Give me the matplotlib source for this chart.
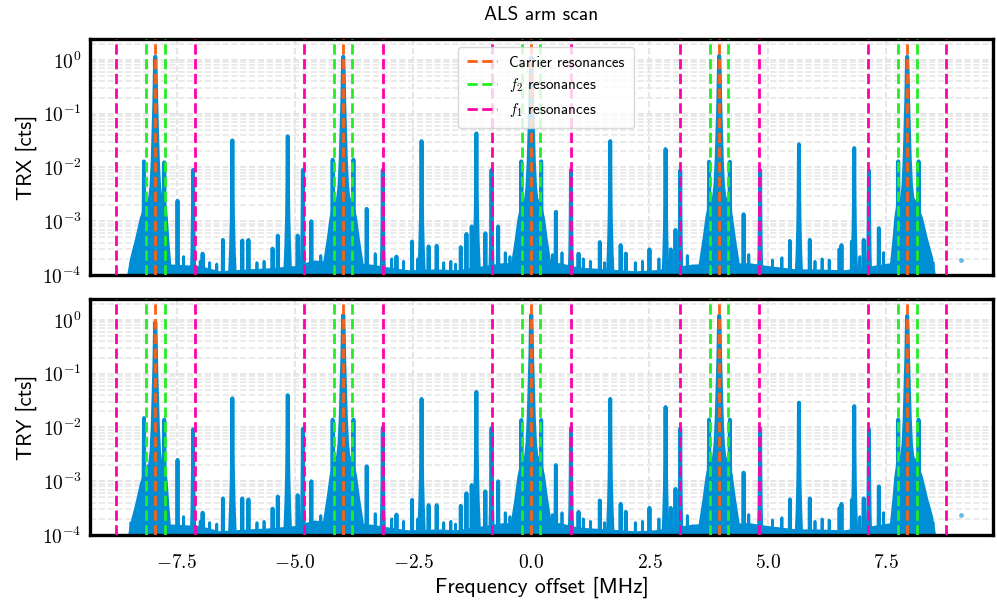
import matplotlib
matplotlib.use("Agg")
import matplotlib.pyplot as plt
from matplotlib.ticker import FixedLocator, FuncFormatter, LogLocator, NullFormatter
import numpy as np

plt.rcParams['font.family'] = ['cmss10', 'DejaVu Sans']
plt.rcParams['mathtext.fontset'] = 'cm'
plt.rcParams['axes.unicode_minus'] = False

# resonance positions [MHz]
carrier_res = [-7.95, -3.975, 0.0, 3.975, 7.95]
f2_res = [-8.155, -7.755, -4.17, -3.78, -0.195, 0.195, 3.78, 4.17, 7.755, 8.155]
f1_res = [-8.78, -7.12, -4.81, -3.14, -0.835, 0.835, 3.14, 4.81, 7.12, 8.78]

# scan range of the data [MHz]
scan_start, scan_end = -8.51, 8.52

# carrier peaks: height per panel, skirt stretch left / right
trx_carrier_h = [1.15, 1.15, 1.1, 1.2, 1.15]
try_carrier_h = [0.9, 1.25, 1.25, 1.2, 1.2]
skirt_left = [1.7, 1.0, 1.0, 1.0, 0.65]
skirt_right = [0.5, 1.0, 1.0, 1.0, 1.8]

# carrier envelope (offset [MHz], level relative to apex)
env_dx = [0, 0.01, 0.02, 0.035, 0.055, 0.08, 0.11, 0.16, 0.2, 0.25, 0.31, 0.37, 0.43]
env_rel = [1, 0.5, 0.15, 0.05, 0.012, 4e-3, 2.3e-3, 2.0e-3, 1.6e-3, 1.0e-3, 4e-4, 1.8e-4, 8e-5]

# narrow peak shape (decades below apex, half width [MHz])
spike_depth = [0, 0.5, 1.0, 1.5, 2.0, 2.5, 3.0, 4.0]
spike_hw = [0.0, 0.003, 0.007, 0.014, 0.028, 0.05, 0.085, 0.13]

# other peaks: position [MHz], TRX height, TRY height
peak_x = [-8.19, -7.76, -7.48, -7.15, -6.95, -6.52, -6.32, -6.11, -5.98, -5.47,
          -5.36, -5.15, -4.94, -4.83, -4.65, -4.20, -3.76, -3.48, -3.14, -2.85,
          -2.52, -2.32, -2.17, -2.0, -1.49, -1.37, -1.26, -1.16, -0.97, -0.84,
          -0.70, -0.21, 0.21, 0.52, 0.84, 1.0, 1.45, 1.67, 1.89, 2.0,
          2.5, 2.84, 2.95, 3.05, 3.15, 3.76, 4.20, 4.49, 4.84, 5.47,
          5.66, 5.89, 6.52, 6.56, 6.78, 6.83, 7.03, 7.14, 7.35, 7.76,
          8.19]
trx_peak_h = [0.013, 0.0125, 0.0024, 0.009, 2.5e-4, 4.5e-4, 0.032, 4.4e-4, 4.5e-4, 3.1e-4,
              5.4e-4, 0.038, 5.4e-4, 0.009, 1.0e-3, 0.014, 0.014, 1.7e-3, 0.009, 2.2e-4,
              4.2e-4, 0.031, 3.4e-4, 3.5e-4, 3.3e-4, 5.8e-4, 8e-4, 0.043, 6e-4, 0.009,
              8e-4, 0.013, 0.013, 1.5e-3, 0.009, 2.5e-4, 4.1e-4, 0.031, 3.6e-4, 2.5e-4,
              3.0e-4, 0.022, 3e-4, 6.9e-4, 0.0088, 0.0128, 0.0128, 1.35e-3, 0.009, 4.3e-4,
              0.027, 4.5e-4, 3e-4, 3.6e-4, 4.2e-4, 0.023, 4.5e-4, 0.0088, 7.4e-4, 0.013,
              0.013]
try_peak_h = [0.015, 0.014, 0.0025, 0.0093, 2.6e-4, 4.8e-4, 0.035, 4.8e-4, 4.6e-4, 3.1e-4,
              5.2e-4, 0.040, 5.5e-4, 0.0095, 1.0e-3, 0.014, 0.014, 1.9e-3, 0.010, 2.4e-4,
              4.5e-4, 0.034, 3.6e-4, 3.6e-4, 3.5e-4, 6e-4, 8.5e-4, 0.046, 6.5e-4, 0.0097,
              1.0e-3, 0.0138, 0.0138, 2.0e-3, 0.0097, 2.7e-4, 4.4e-4, 0.034, 3.8e-4, 2.7e-4,
              3.2e-4, 0.024, 3.2e-4, 7.2e-4, 0.0095, 0.014, 0.014, 1.45e-3, 0.0097, 4.6e-4,
              0.029, 4.8e-4, 3.2e-4, 3.8e-4, 4.5e-4, 0.025, 4.8e-4, 0.0093, 8e-4, 0.014,
              0.014]

# small noise spikes between the resonances (both panels)
grass_x = [-7.35, -7.0, -6.8, -6.65, -5.8, -5.65, -4.45, -3.3, -2.95, -2.7, -2.4,
           -1.85, -1.7, -1.6, -0.55, -0.45, 0.45, 0.65, 1.1, 1.25, 1.55, 2.2,
           2.35, 2.7, 3.3, 4.6, 5.1, 5.3, 6.0, 6.15, 6.3, 6.95, 7.45, 8.35]
grass_y = [2.2e-4, 1.8e-4, 1.7e-4, 1.6e-4, 1.7e-4, 1.8e-4, 2.3e-4, 2.5e-4, 2.0e-4, 1.8e-4, 2.0e-4,
           1.7e-4, 1.8e-4, 1.6e-4, 2.6e-4, 2.2e-4, 2.4e-4, 2.6e-4, 2.0e-4, 1.8e-4, 1.7e-4, 1.7e-4,
           1.8e-4, 2.0e-4, 2.3e-4, 2.4e-4, 1.9e-4, 2.1e-4, 1.8e-4, 2.0e-4, 1.9e-4, 2.2e-4, 2.6e-4, 2.8e-4]

# noise floor (upper edge of the dense band)
floor_x = [-8.51, -7.6, -7.0, -6.6, -6.0, -5.6, -5.0, -4.6, -3.4, -3.0, -2.6, -2.0, -1.6, -1.0, -0.6,
           0.6, 1.0, 1.6, 2.2, 2.6, 3.0, 3.4, 4.6, 5.0, 5.6, 6.0, 6.6, 7.0, 7.6, 8.52]
floor_y = [1.8e-4, 1.6e-4, 1.5e-4, 1.2e-4, 1.3e-4, 1.35e-4, 1.5e-4, 1.9e-4, 1.6e-4, 1.4e-4, 1.25e-4,
           1.3e-4, 1.25e-4, 1.5e-4, 1.7e-4, 1.7e-4, 1.4e-4, 1.3e-4, 1.2e-4, 1.25e-4, 1.4e-4, 1.6e-4,
           1.7e-4, 1.5e-4, 1.3e-4, 1.3e-4, 1.25e-4, 1.4e-4, 1.7e-4, 1.8e-4]

# stray points
trx_stray_x = [9.09]
trx_stray_y = [1.9e-4]
try_stray_x = [9.09, 8.06]
try_stray_y = [2.4e-4, 1.8e-4]

blue = '#008fd5'
c_carrier = '#ff6010'
c_f2 = '#22ee22'
c_f1 = '#ff00aa'


def draw_spike(ax, x0, h, lw=2.8):
    lev = h * 10.0 ** (-np.array(spike_depth))
    hw = np.array(spike_hw)
    xs = np.concatenate([x0 - hw[::-1], x0 + hw])
    ys = np.concatenate([lev[::-1], lev])
    ax.fill(xs, ys, color=blue, ec=blue, lw=lw, joinstyle='round', zorder=2)


def draw_carrier(ax, x0, h, sl, sr):
    dx = np.array(env_dx)
    rel = np.array(env_rel)
    left = np.where(dx > 0.2, 0.2 + (dx - 0.2) * sl, dx)
    right = np.where(dx > 0.2, 0.2 + (dx - 0.2) * sr, dx)
    xs = np.concatenate([x0 - left[::-1], x0 + right])
    ys = np.concatenate([rel[::-1], rel]) * h
    xs = np.clip(xs, scan_start, scan_end)
    xs = np.concatenate([[xs[0]], xs, [xs[-1]]])
    ys = np.concatenate([[5e-5], ys, [5e-5]])
    ax.fill(xs, ys, color=blue, ec=blue, lw=2.8, joinstyle='round', zorder=2)


def draw_panel(ax, carrier_h, peak_h, stray_x, stray_y, ylabel):
    ax.fill_between(floor_x, 5e-5, floor_y, color=blue, lw=0, zorder=2)
    for x0, h, sl, sr in zip(carrier_res, carrier_h, skirt_left, skirt_right):
        draw_carrier(ax, x0, h, sl, sr)
    for x0, h in zip(peak_x, peak_h):
        draw_spike(ax, x0, h)
    for x0, h in zip(grass_x, grass_y):
        draw_spike(ax, x0, h, lw=2.0)
    ax.scatter(stray_x, stray_y, s=12, color=blue, alpha=0.6, lw=0, zorder=2)

    for i, x in enumerate(carrier_res):
        ax.axvline(x, color=c_carrier, ls='--', lw=2, zorder=3,
                   label='Carrier resonances' if i == 0 else None)
    for i, x in enumerate(f2_res):
        ax.axvline(x, color=c_f2, ls='--', lw=2, zorder=3,
                   label=r'$f_2$ resonances' if i == 0 else None)
    for i, x in enumerate(f1_res):
        ax.axvline(x, color=c_f1, ls='--', lw=2, zorder=3,
                   label=r'$f_1$ resonances' if i == 0 else None)

    ax.set_yscale('log')
    ax.set_ylim(1e-4, 2.45)
    ax.set_xlim(-9.33, 9.76)
    ax.yaxis.set_major_locator(LogLocator(base=10, numticks=10))
    ax.yaxis.set_minor_locator(LogLocator(base=10, subs=np.arange(2, 10), numticks=10))
    ax.yaxis.set_major_formatter(FuncFormatter(lambda v, p: r'$10^{%d}$' % round(np.log10(v))))
    ax.yaxis.set_minor_formatter(NullFormatter())
    ax.xaxis.set_major_locator(FixedLocator([-7.5, -5.0, -2.5, 0.0, 2.5, 5.0, 7.5]))
    ax.xaxis.set_major_formatter(FuncFormatter(lambda v, p: r'$%.1f$' % v))
    ax.grid(True, which='major', axis='both', ls='--', lw=1.2, color='#e2e2e2', zorder=0)
    ax.grid(True, which='minor', axis='y', ls='--', lw=1.2, color='#e8e8e8', zorder=0)
    ax.set_axisbelow(True)
    ax.tick_params(which='both', length=0, labelsize=14, pad=6)
    ax.tick_params(axis='x', pad=14)
    for s in ax.spines.values():
        s.set_linewidth(2.4)
        s.set_color('black')
    ax.set_ylabel(ylabel, fontsize=15, labelpad=4)


fig = plt.figure(figsize=(9.97, 6.04), dpi=100)
ax1 = fig.add_axes([0.0903, 0.5447, 0.9055, 0.3907])
ax2 = fig.add_axes([0.0903, 0.1142, 0.9055, 0.3907], sharex=ax1)

draw_panel(ax1, trx_carrier_h, trx_peak_h, trx_stray_x, trx_stray_y, 'TRX [cts]')
draw_panel(ax2, try_carrier_h, try_peak_h, try_stray_x, try_stray_y, 'TRY [cts]')
ax1.tick_params(axis='x', labelbottom=False)
ax2.set_xlabel('Frequency offset [MHz]', fontsize=15.7, labelpad=3)

ax1.legend(loc='upper center', fontsize=10.9, framealpha=0.8, edgecolor='#d0d0d0',
           handlelength=2.0, borderpad=0.6, labelspacing=0.45, bbox_to_anchor=(0.505, 1.0))
fig.text(0.543, 0.975, 'ALS arm scan', ha='center', va='center', fontsize=14)

fig.savefig('out.png', dpi=100)
